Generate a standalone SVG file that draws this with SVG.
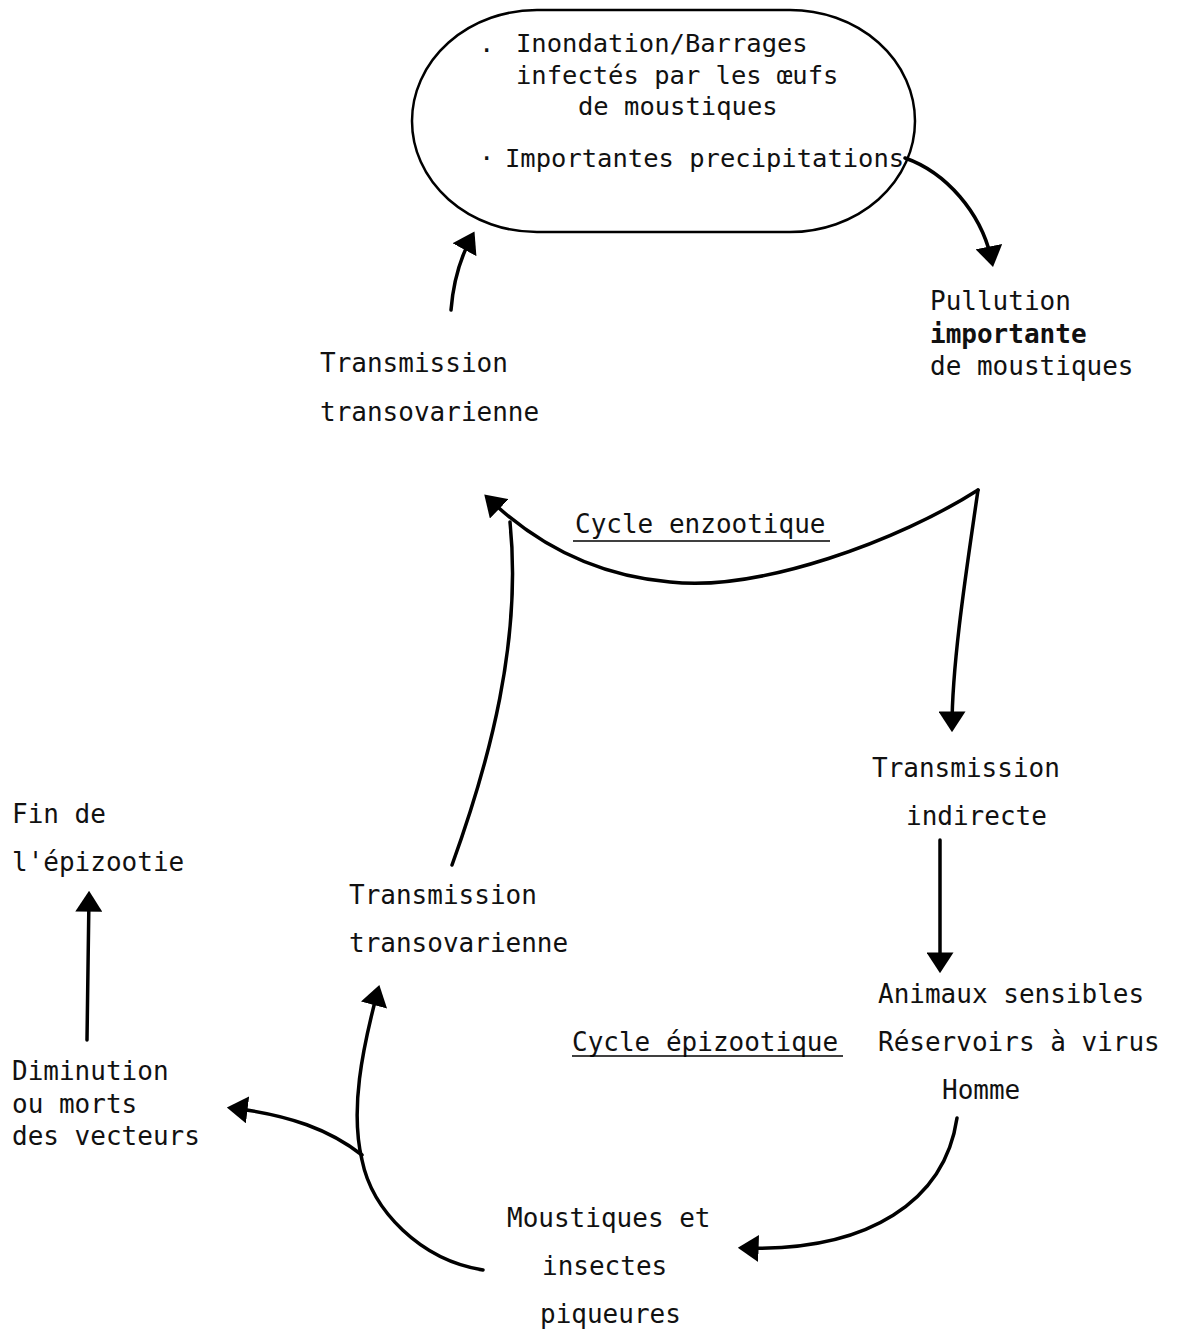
<svg xmlns="http://www.w3.org/2000/svg" width="1178" height="1331" viewBox="0 0 1178 1331">
<style>
text{font-family:"DejaVu Sans Mono","Liberation Mono",monospace;font-size:26px;fill:#111;}
.thin{font-size:25.5px;}
.b{font-weight:bold;}
.c{fill:none;stroke:#000;stroke-width:3.5;stroke-linecap:round;}
.ul{stroke:#000;stroke-width:1.5;}
</style>
<defs>
<marker id="ah" viewBox="0 0 20 26" refX="15" refY="13" markerWidth="21" markerHeight="27" markerUnits="userSpaceOnUse" orient="auto">
<path d="M0,0 L20,13 L0,26 z" fill="#000"/>
</marker>
</defs>
<rect width="1178" height="1331" fill="#fff"/>

<g id="source">
<rect x="412" y="10" width="503" height="222" rx="125" ry="111" fill="none" stroke="#000" stroke-width="2.5"/>
<text class="thin" x="479" y="52">.</text>
<text class="thin" x="516" y="52">Inondation/Barrages</text>
<text class="thin" x="516" y="84">infectés par les œufs</text>
<text class="thin" x="578" y="115">de moustiques</text>
<text class="thin" x="479" y="167">·</text>
<text class="thin" x="505" y="167">Importantes precipitations</text>
</g>

<g id="pullution">
<text x="930" y="310">Pullution</text>
<text class="b" x="930" y="343">importante</text>
<text x="930" y="375">de moustiques</text>
</g>

<g id="transovarienne-top">
<text x="320" y="372">Transmission</text>
<text x="320" y="421">transovarienne</text>
</g>

<g id="cycle-enzootique">
<text x="575" y="533">Cycle enzootique</text>
<line class="ul" x1="573" y1="541" x2="830" y2="541"/>
</g>

<g id="transmission-indirecte">
<text x="872" y="777">Transmission</text>
<text x="906" y="825">indirecte</text>
</g>

<g id="animaux">
<text x="878" y="1003">Animaux sensibles</text>
<text x="878" y="1051">Réservoirs à virus</text>
<text x="942" y="1099">Homme</text>
</g>

<g id="cycle-epizootique">
<text x="572" y="1051">Cycle épizootique</text>
<line class="ul" x1="572" y1="1056" x2="843" y2="1056"/>
</g>

<g id="moustiques">
<text x="507" y="1227">Moustiques et</text>
<text x="542" y="1275">insectes</text>
<text x="540" y="1323">piqueures</text>
</g>

<g id="transovarienne-bottom">
<text x="349" y="904">Transmission</text>
<text x="349" y="952">transovarienne</text>
</g>

<g id="fin">
<text x="12" y="823">Fin de</text>
<text x="12" y="871">l'épizootie</text>
</g>

<g id="diminution">
<text x="12" y="1080">Diminution</text>
<text x="12" y="1113">ou morts</text>
<text x="12" y="1145">des vecteurs</text>
</g>

<g id="connectors">
<path class="c" d="M905,158 C945,172 982,212 992,262" marker-end="url(#ah)"/>
<path class="c" d="M451,310 C453,285 460,258 472,236" marker-end="url(#ah)"/>
<path class="c" d="M978,490 C900,540 760,592 670,582 C600,576 540,548 488,498" marker-end="url(#ah)"/>
<path class="c" d="M978,490 C968,560 952,660 952,727" marker-end="url(#ah)"/>
<path class="c" d="M452,865 C490,760 522,640 510,522"/>
<path class="c" d="M940,840 L940,968" marker-end="url(#ah)"/>
<path class="c" d="M957,1118 C945,1200 870,1252 743,1248" marker-end="url(#ah)"/>
<path class="c" d="M483,1270 C420,1260 372,1210 362,1160 C350,1110 362,1050 378,990" marker-end="url(#ah)"/>
<path class="c" d="M362,1155 C330,1130 290,1115 232,1108" marker-end="url(#ah)"/>
<path class="c" d="M87,1040 L89,896" marker-end="url(#ah)"/>
</g>
</svg>
